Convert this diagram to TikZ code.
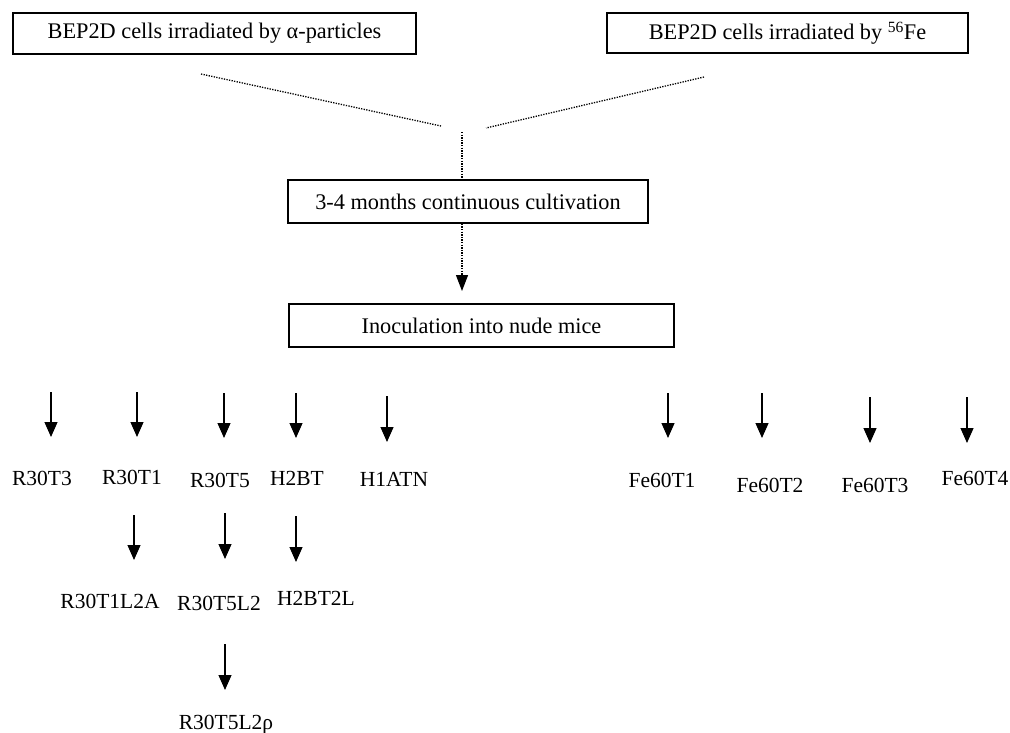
\documentclass[tikz,border=0pt]{standalone}
\usepackage{fontspec}
\setmainfont{Liberation Serif}
\usetikzlibrary{arrows.meta}
\begin{document}
\begin{tikzpicture}[x=1pt,y=-1pt,
  every node/.style={font=\fontsize{21.5}{24}\selectfont, inner sep=0pt},
  boxnode/.style={draw, line width=1.7pt, minimum width=#1, font=\fontsize{22.3}{25}\selectfont},
  lbl/.style={anchor=base},
  solidarrow/.style={line width=1.2pt, -{Triangle[width=13pt,length=15pt]}},
  dotline/.style={line width=1.3pt, dash pattern=on 1.3pt off 1.3pt},
  dotarrow/.style={dotline, -{Triangle[width=12pt,length=16pt]}}]
\useasboundingbox (0,0) rectangle (1010,732);
% boxes
\node[boxnode=403pt, minimum height=41pt] (b1) at (214.5,33.5) {BEP2D cells irradiated by α-particles};
\node[boxnode=361pt, minimum height=40pt] (b2) at (787.5,33) {BEP2D cells irradiated by \textsuperscript{56}Fe};
\node[boxnode=360pt, minimum height=43pt] (cult) at (468,201.5) {3-4 months continuous cultivation};
\node[boxnode=385pt, minimum height=43pt] (inoc) at (481.5,325.5) {Inoculation into nude mice};
% dotted connectors
\coordinate (l1) at (201,74);
\coordinate (l2) at (441,126);
\coordinate (r1) at (704,77);
\coordinate (r2) at (486,128);
\coordinate (v1) at (462,132);
\coordinate (v2) at (462,291);
\draw[dotline] (l1) -- (l2);
\draw[dotline] (r1) -- (r2);
\draw[dotline] (v1) -- (v1 |- cult.north);
\draw[dotarrow] (v1 |- cult.south) -- (v2);
% labels row 1
\node[lbl] (n1) at (42,485) {R30T3};
\node[lbl] (n2) at (132,484) {R30T1};
\node[lbl] (n3) at (220,487) {R30T5};
\node[lbl] (n4) at (297,485) {H2BT};
\node[lbl] (n5) at (394,486) {H1ATN};
\node[lbl] (f1) at (662,487) {Fe60T1};
\node[lbl] (f2) at (770,492) {Fe60T2};
\node[lbl] (f3) at (875,492) {Fe60T3};
\node[lbl] (f4) at (975,485) {Fe60T4};
% row 2
\node[lbl] (m2) at (110,608) {R30T1L2A};
\node[lbl] (m3) at (219,610) {R30T5L2};
\node[lbl] (m4) at (316,605) {H2BT2L};
% row 3
\node[lbl] (k3) at (226,729) {R30T5L2ρ};
% arrow coordinates
\foreach \nm/\x/\ya/\yb in {a1/51/392/437, a2/137/392/437, a3/224/393/438, a4/296/393/438, a5/387/396/442,
  g1/668/393/438, g2/762/393/438, g3/870/397/443, g4/967/397/443,
  c2/134/515/560, c3/225/513/559, c4/296/516/562, d3/225/644/690}{
  \coordinate (\nm s) at (\x,\ya);
  \coordinate (\nm e) at (\x,\yb);
}
\foreach \nm in {a1,a2,a3,a4,a5,g1,g2,g3,g4,c2,c3,c4,d3}{
  \draw[solidarrow] (\nm s) -- (\nm e);
}
\end{tikzpicture}
\end{document}
